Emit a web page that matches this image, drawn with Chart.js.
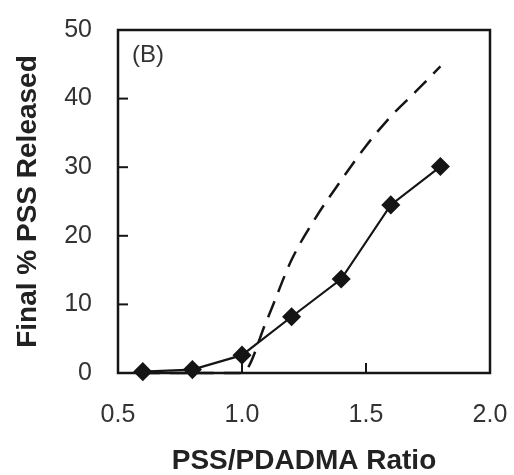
<!DOCTYPE html>
<html>
<head>
<meta charset="utf-8">
<script src="https://cdn.jsdelivr.net/npm/chart.js@4/dist/chart.umd.min.js"></script>
<style>
  html, body { margin: 0; padding: 0; background: #fff; }
  #wrap { width: 514px; height: 475px; }
</style>
</head>
<body>
<div id="wrap"><canvas id="myChart" width="514" height="475"></canvas></div>
<script>
// measured points (diamonds, solid line)
const ratios = [0.6, 0.8, 1.0, 1.2, 1.4, 1.6, 1.8];
const released = [0.2, 0.5, 2.6, 8.2, 13.7, 24.5, 30.1];

// dashed curve
const curveRatios = [0.6, 0.7, 0.8, 0.9, 1.0, 1.1, 1.2, 1.3, 1.4, 1.5, 1.6, 1.7, 1.8];
const curveReleased = [0, 0, 0, 0, 0, 7.7, 16.5, 22.8, 28.1, 33.1, 37.4, 41.0, 44.7];

const xTicks = [0.5, 1.0, 1.5, 2.0];
const yTicks = [0, 10, 20, 30, 40, 50];

const ink = "#151515";

// frame, inward tick marks and the "(B)" tag
const framePlugin = {
    id: "frame",
    afterDraw(chart) {
        const { ctx, chartArea: a, scales } = chart;
        ctx.save();
        ctx.strokeStyle = ink;
        ctx.lineWidth = 2;
        xTicks.slice(1, -1).forEach(v => {
            const px = scales.x.getPixelForValue(v);
            ctx.beginPath();
            ctx.moveTo(px, a.bottom);
            ctx.lineTo(px, a.bottom - 10);
            ctx.stroke();
        });
        yTicks.slice(1, -1).forEach(v => {
            const py = scales.y.getPixelForValue(v);
            ctx.beginPath();
            ctx.moveTo(a.left, py);
            ctx.lineTo(a.left + 10, py);
            ctx.stroke();
        });
        ctx.lineWidth = 2.5;
        ctx.strokeRect(a.left, a.top, a.right - a.left, a.bottom - a.top);
        ctx.fillStyle = "#333";
        ctx.font = "24px 'Liberation Sans', Arial, sans-serif";
        ctx.textBaseline = "alphabetic";
        ctx.fillText("(B)", a.left + 14, a.top + 32);
        ctx.restore();
    }
};

const ctx = document.getElementById("myChart").getContext("2d");
const myChart = new Chart(ctx, {
    type: "line",
    data: {
        datasets: [
            {
                label: "Model",
                data: curveRatios.map((r, i) => ({ x: r, y: curveReleased[i] })),
                borderColor: ink,
                borderWidth: 2.5,
                borderDash: [17, 10],
                pointRadius: 0,
                cubicInterpolationMode: "monotone",
                fill: false,
                clip: false,
            },
            {
                label: "Measured",
                data: ratios.map((r, i) => ({ x: r, y: released[i] })),
                borderColor: ink,
                backgroundColor: ink,
                borderWidth: 2.2,
                pointStyle: "rectRot",
                pointRadius: 8,
                pointBackgroundColor: ink,
                pointBorderColor: ink,
                fill: false,
                clip: false,
            },
        ],
    },
    options: {
        responsive: false,
        animation: false,
        layout: { padding: { top: 30, right: 24, left: 0, bottom: 0 } },
        plugins: {
            legend: { display: false },
            tooltip: { enabled: false },
        },
        scales: {
            x: {
                type: "linear",
                min: 0.5,
                max: 2.0,
                afterBuildTicks: s => { s.ticks = xTicks.map(v => ({ value: v })); },
                afterFit: s => { s.height = 102; s.paddingLeft = 0; s.paddingRight = 0; },
                grid: { display: false, drawTicks: false },
                border: { display: false },
                ticks: {
                    padding: 27,
                    color: "#333",
                    font: { family: "'Liberation Sans', Arial, sans-serif", size: 25 },
                    callback: v => Number(v).toFixed(1),
                },
                title: {
                    display: true,
                    text: "PSS/PDADMA Ratio",
                    color: "#222",
                    padding: { top: 0, bottom: 0 },
                    font: { family: "'Liberation Sans', Arial, sans-serif", size: 28, weight: "bold", lineHeight: 1 },
                },
            },
            y: {
                min: 0,
                max: 50,
                afterBuildTicks: s => { s.ticks = yTicks.map(v => ({ value: v })); },
                afterFit: s => { s.width = 118; s.paddingTop = 0; s.paddingBottom = 0; },
                grid: { display: false, drawTicks: false },
                border: { display: false },
                ticks: {
                    padding: 26,
                    color: "#333",
                    font: { family: "'Liberation Sans', Arial, sans-serif", size: 25 },
                },
                title: {
                    display: true,
                    text: "Final % PSS Released",
                    color: "#222",
                    padding: { top: 14, bottom: 0 },
                    font: { family: "'Liberation Sans', Arial, sans-serif", size: 28, weight: "bold", lineHeight: 1 },
                },
            },
        },
    },
    plugins: [framePlugin],
});
</script>
</body>
</html>
